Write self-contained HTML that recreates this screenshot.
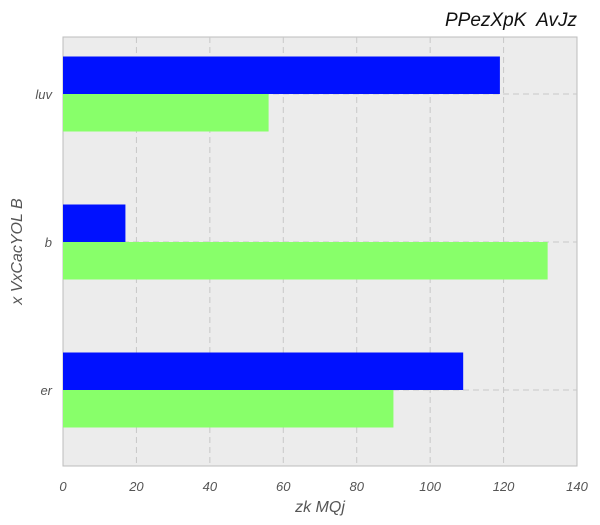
<!DOCTYPE html>
<html><head><meta charset="utf-8"><style>
html,body{margin:0;padding:0;background:#fff;}
svg{display:block;font-family:"Liberation Sans",Arial,sans-serif;}
</style></head><body>
<svg id="chart" width="600" height="525"></svg>
<script>
const categories = ["luv", "b", "er"];
const blueValues = [119, 17, 109];
const greenValues = [56, 132, 90];
const xTicks = [0, 20, 40, 60, 80, 100, 120, 140];

const NS = "http://www.w3.org/2000/svg";
const svg = document.getElementById("chart");
const L = 63, R = 577, T = 37, B = 466;
const xMax = 140;
function xs(v){ return L + (R - L) * v / xMax; }
const firstCenter = 94, step = 148;
function yc(i){ return firstCenter + step * i; }
const barH = 37.5;

function mk(tag, attrs, parent){
  const e = document.createElementNS(NS, tag);
  for (const k in attrs) e.setAttribute(k, attrs[k]);
  (parent || svg).appendChild(e);
  return e;
}

const bg = mk("rect", {x:L, y:T, width:R-L, height:B-T, fill:"#ececec", stroke:"#bdbdbd", "stroke-width":1});



xTicks.forEach(t => {
  const x = xs(t);
  if (t > 0 && t < xMax) {
    const g = mk("line", {x1:x, x2:x, y1:T, y2:B, stroke:"#c8c8c8", "stroke-dasharray":"6,4", "stroke-width":1});
    
    
  }
  const lb = mk("text", {x:x, y:B+25, "text-anchor":"middle", "font-size":13, "font-style":"italic", fill:"#555"});
  lb.textContent = t;
  
  
});

categories.forEach((c, i) => {
  const y = yc(i);
  const g = mk("line", {x1:L, x2:R, y1:y, y2:y, stroke:"#c8c8c8", "stroke-dasharray":"6,4", "stroke-width":1});
  
  
  const lb = mk("text", {x:L-11, y:y+5, "text-anchor":"end", "font-size":13, "font-style":"italic", fill:"#555"});
  lb.textContent = c;
  
  
  const b1 = mk("rect", {x:L, y:y-barH, width:xs(blueValues[i])-L, height:barH, fill:"#0011ff"});
  
  
  const b2 = mk("rect", {x:L, y:y, width:xs(greenValues[i])-L, height:barH, fill:"#88ff6a"});
  
  
});

const title = mk("text", {x:R, y:26, "text-anchor":"end", "font-size":19, "font-style":"italic", fill:"#111", style:"white-space:pre"});
title.textContent = "PPezXpK  AvJz";



const xt = mk("text", {x:(L+R)/2, y:512, "text-anchor":"middle", "font-size":16, "font-style":"italic", fill:"#555"});
xt.textContent = "zk MQj";



const yt = mk("text", {x:0, y:0, "text-anchor":"middle", "font-size":16, "font-style":"italic", fill:"#555", transform:"translate(22," + ((T+B)/2) + ") rotate(-90)"});
yt.textContent = "x VxCacYOL B";


</script>
</body></html>
